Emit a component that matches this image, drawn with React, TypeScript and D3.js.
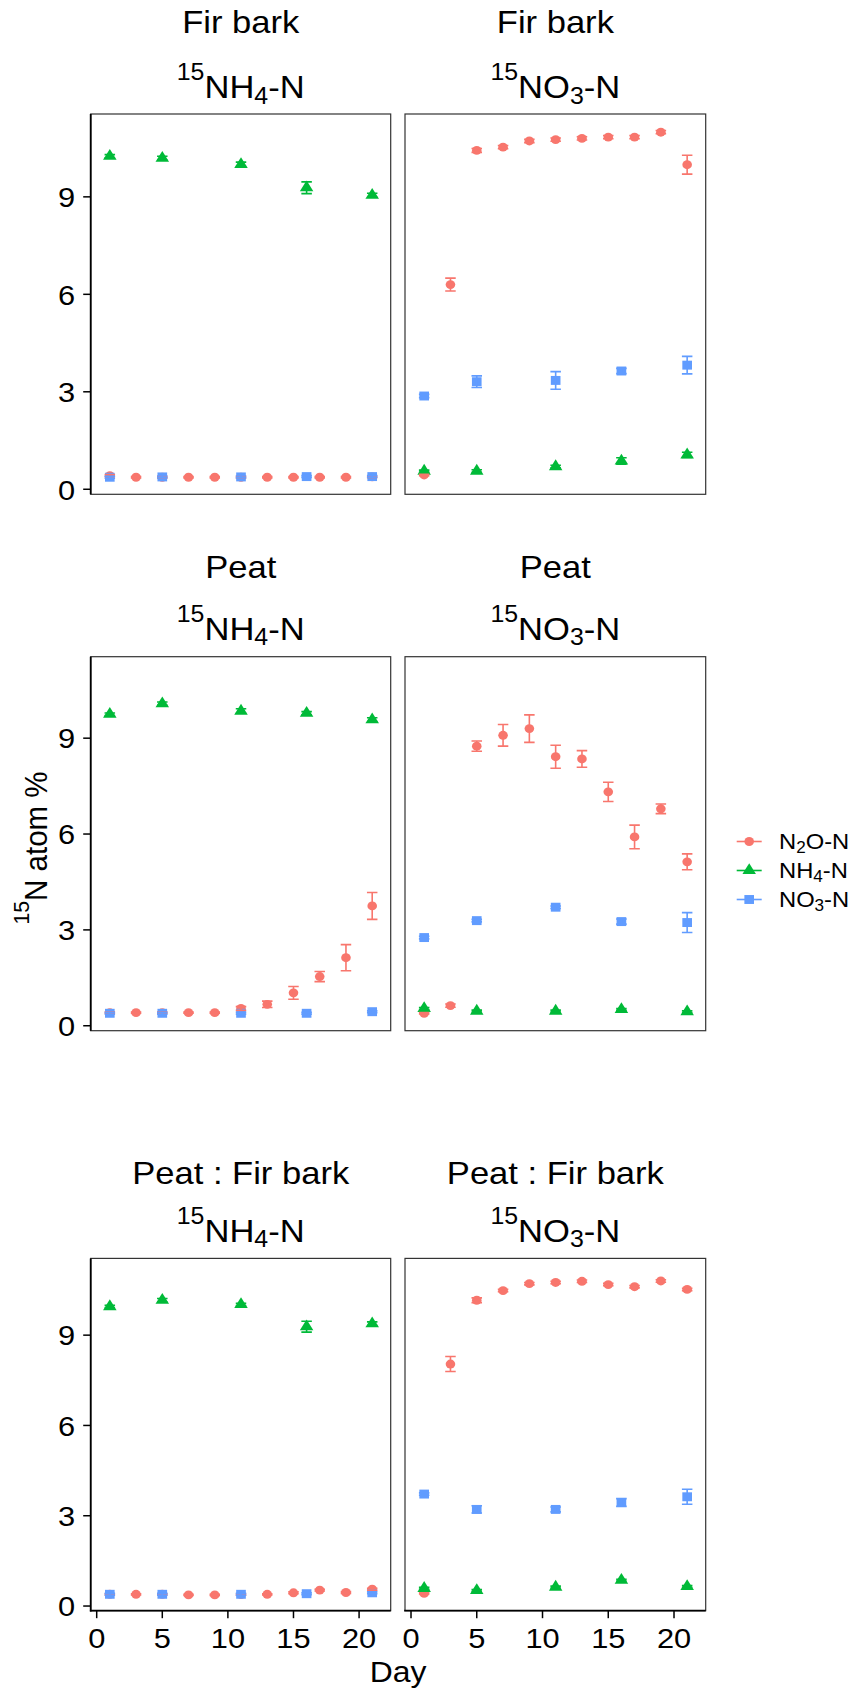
import React from 'react';
import * as d3 from 'd3';

// Sampling days
const n2oDays = [1, 3, 5, 7, 9, 11, 13, 15, 17, 19, 21];
const poolDays = [1, 5, 11, 16, 21];

// Fir bark, 15NH4-N labelled
const firNH4_N2O = [0.42, 0.37, 0.37, 0.37, 0.37, 0.37, 0.37, 0.37, 0.37, 0.37, 0.38];
const firNH4_N2O_se = [0.03, 0.02, 0.02, 0.02, 0.02, 0.02, 0.02, 0.02, 0.02, 0.02, 0.02];
const firNH4_NH4 = [10.25, 10.19, 10.0, 9.28, 9.05];
const firNH4_NH4_se = [0.05, 0.06, 0.07, 0.18, 0.06];
const firNH4_NO3 = [0.37, 0.38, 0.38, 0.39, 0.39];
const firNH4_NO3_se = [0.03, 0.03, 0.03, 0.03, 0.03];

// Fir bark, 15NO3-N labelled
const firNO3_N2O = [0.44, 6.3, 10.43, 10.53, 10.72, 10.76, 10.8, 10.84, 10.84, 10.99, 9.99];
const firNO3_N2O_se = [0.02, 0.2, 0.06, 0.05, 0.05, 0.05, 0.05, 0.05, 0.05, 0.05, 0.29];
const firNO3_NH4 = [0.56, 0.56, 0.7, 0.87, 1.06];
const firNO3_NH4_se = [0.03, 0.04, 0.04, 0.1, 0.08];
const firNO3_NO3 = [2.87, 3.31, 3.35, 3.64, 3.82];
const firNO3_NO3_se = [0.05, 0.18, 0.27, 0.08, 0.27];

// Peat, 15NH4-N labelled
const peatNH4_N2O = [0.41, 0.41, 0.41, 0.41, 0.41, 0.54, 0.67, 1.03, 1.54, 2.13, 3.75];
const peatNH4_N2O_se = [0.02, 0.02, 0.02, 0.02, 0.02, 0.06, 0.1, 0.2, 0.16, 0.41, 0.42];
const peatNH4_NH4 = [9.75, 10.08, 9.85, 9.78, 9.58];
const peatNH4_NH4_se = [0.04, 0.05, 0.07, 0.05, 0.06];
const peatNH4_NO3 = [0.39, 0.39, 0.39, 0.39, 0.44];
const peatNH4_NO3_se = [0.03, 0.03, 0.03, 0.03, 0.03];

// Peat, 15NO3-N labelled
const peatNO3_N2O = [0.39, 0.63, 8.75, 9.09, 9.3, 8.42, 8.35, 7.32, 5.91, 6.79, 5.13];
const peatNO3_N2O_se = [0.02, 0.05, 0.16, 0.34, 0.43, 0.36, 0.26, 0.3, 0.37, 0.15, 0.25];
const peatNO3_NH4 = [0.54, 0.46, 0.46, 0.51, 0.44];
const peatNO3_NH4_se = [0.03, 0.03, 0.03, 0.03, 0.03];
const peatNO3_NO3 = [2.76, 3.29, 3.71, 3.26, 3.23];
const peatNO3_NO3_se = [0.04, 0.04, 0.04, 0.08, 0.31];

// Peat : Fir bark, 15NH4-N labelled
const mixNH4_N2O = [0.39, 0.39, 0.39, 0.37, 0.37, 0.38, 0.39, 0.44, 0.53, 0.45, 0.56];
const mixNH4_N2O_se = [0.02, 0.02, 0.02, 0.02, 0.02, 0.02, 0.02, 0.03, 0.03, 0.03, 0.03];
const mixNH4_NH4 = [9.95, 10.16, 10.02, 9.28, 9.38];
const mixNH4_NH4_se = [0.04, 0.06, 0.04, 0.18, 0.06];
const mixNH4_NO3 = [0.39, 0.39, 0.39, 0.41, 0.44];
const mixNH4_NO3_se = [0.03, 0.03, 0.03, 0.03, 0.03];

// Peat : Fir bark, 15NO3-N labelled
const mixNO3_N2O = [0.42, 8.04, 10.16, 10.48, 10.71, 10.75, 10.79, 10.68, 10.61, 10.8, 10.52];
const mixNO3_N2O_se = [0.02, 0.25, 0.08, 0.04, 0.04, 0.04, 0.04, 0.04, 0.04, 0.04, 0.04];
const mixNO3_NH4 = [0.59, 0.52, 0.63, 0.86, 0.65];
const mixNO3_NH4_se = [0.03, 0.03, 0.03, 0.03, 0.03];
const mixNO3_NO3 = [3.72, 3.21, 3.21, 3.44, 3.63];
const mixNO3_NO3_se = [0.04, 0.12, 0.08, 0.13, 0.25];

const materials = ['Fir bark', 'Peat', 'Peat : Fir bark'];
const tracers = ['4', '3'];
const tracerIons = ['NH', 'NO'];
const seriesColors = ['#F8766D', '#00BA38', '#619CFF'];
const yTicks = [0, 3, 6, 9];
const xTicks = [0, 5, 10, 15, 20];

type Series = { days: number[]; mean: number[]; se: number[] };
type PanelData = { row: number; col: number; series: Series[] };

const mk = (days: number[], mean: number[], se: number[]): Series => ({ days, mean, se });

const panels: PanelData[] = [
  { row: 0, col: 0, series: [mk(n2oDays, firNH4_N2O, firNH4_N2O_se), mk(poolDays, firNH4_NH4, firNH4_NH4_se), mk(poolDays, firNH4_NO3, firNH4_NO3_se)] },
  { row: 0, col: 1, series: [mk(n2oDays, firNO3_N2O, firNO3_N2O_se), mk(poolDays, firNO3_NH4, firNO3_NH4_se), mk(poolDays, firNO3_NO3, firNO3_NO3_se)] },
  { row: 1, col: 0, series: [mk(n2oDays, peatNH4_N2O, peatNH4_N2O_se), mk(poolDays, peatNH4_NH4, peatNH4_NH4_se), mk(poolDays, peatNH4_NO3, peatNH4_NO3_se)] },
  { row: 1, col: 1, series: [mk(n2oDays, peatNO3_N2O, peatNO3_N2O_se), mk(poolDays, peatNO3_NH4, peatNO3_NH4_se), mk(poolDays, peatNO3_NO3, peatNO3_NO3_se)] },
  { row: 2, col: 0, series: [mk(n2oDays, mixNH4_N2O, mixNH4_N2O_se), mk(poolDays, mixNH4_NH4, mixNH4_NH4_se), mk(poolDays, mixNH4_NO3, mixNH4_NO3_se)] },
  { row: 2, col: 1, series: [mk(n2oDays, mixNO3_N2O, mixNO3_N2O_se), mk(poolDays, mixNO3_NH4, mixNO3_NH4_se), mk(poolDays, mixNO3_NO3, mixNO3_NO3_se)] },
];

// Layout
const W = 853;
const H = 1694;
const SX = 1.08; // horizontal glyph stretch
const FONT = '"Liberation Sans", Arial, Helvetica, sans-serif';
const TICK_SIZE = 28.5;
const rowLayout = [
  { top: 114, bottom: 494.3, title1: 33.3, title2: 98.3 },
  { top: 656.7, bottom: 1030.7, title1: 578.3, title2: 640 },
  { top: 1258.4, bottom: 1610.7, title1: 1184, title2: 1242 },
];
const colLayout = [
  { left: 90.7, right: 390.7 },
  { left: 405, right: 705.7 },
];
const xDomain: [number, number] = [-0.457, 22.41];
const yDomain: [number, number] = [-0.155, 11.55];
const capHalf = 0.4;

const symbolPaths = [
  d3.symbol(d3.symbolCircle, 62)()!,
  d3.symbol(d3.symbolTriangle, 68)()!,
  d3.symbol(d3.symbolSquare, 80)()!,
];

type Part = { t: string; v?: 'sup' | 'sub' };

function RichText({ parts, size, x, y, anchor = 'middle', rotate = false }: {
  parts: Part[]; size: number; x: number; y: number; anchor?: string; rotate?: boolean;
}) {
  let cur = 0;
  const spans = parts.map((p, i) => {
    const target = p.v === 'sup' ? -0.56 * size : p.v === 'sub' ? 0.17 * size : 0;
    const dy = target - cur;
    cur = target;
    return (
      <tspan key={i} dy={dy} fontSize={p.v ? size * 0.72 : size}>
        {p.t}
      </tspan>
    );
  });
  const tf = rotate
    ? `translate(${x},${y}) rotate(-90) scale(1,${SX})`
    : `translate(${x},${y}) scale(${SX},1)`;
  return (
    <text transform={tf} textAnchor={anchor as any} fontSize={size} fontFamily={FONT} fill="#000">
      {spans}
    </text>
  );
}

function Panel({ p }: { p: PanelData }) {
  const rl = rowLayout[p.row];
  const cl = colLayout[p.col];
  const x = d3.scaleLinear().domain(xDomain).range([cl.left, cl.right]);
  const y = d3.scaleLinear().domain(yDomain).range([rl.bottom, rl.top]);
  const cx = (cl.left + cl.right) / 2;
  const isLeft = p.col === 0;
  const isBottom = p.row === 2;

  return (
    <g>
      {/* facet titles */}
      <RichText parts={[{ t: materials[p.row] }]} size={32} x={cx} y={rl.title1} />
      <RichText
        parts={[{ t: '15', v: 'sup' }, { t: tracerIons[p.col] }, { t: tracers[p.col], v: 'sub' }, { t: '-N' }]}
        size={32}
        x={cx}
        y={rl.title2}
      />
      {/* panel border */}
      <rect x={cl.left} y={rl.top} width={cl.right - cl.left} height={rl.bottom - rl.top}
        fill="none" stroke="#333" strokeWidth={1.2} />
      {isLeft && (
        <line x1={cl.left} x2={cl.left} y1={rl.top} y2={isBottom ? rl.bottom + 0.8 : rl.bottom} stroke="#000" strokeWidth={1.8} />
      )}
      {isBottom && (
        <line x1={cl.left - 0.8} x2={cl.right} y1={rl.bottom} y2={rl.bottom} stroke="#000" strokeWidth={1.8} />
      )}
      {/* y axis */}
      {isLeft && yTicks.map((t) => (
        <g key={t}>
          <line x1={cl.left - 7.5} x2={cl.left} y1={y(t)} y2={y(t)} stroke="#000" strokeWidth={1.5} />
          <RichText parts={[{ t: String(t) }]} size={TICK_SIZE} x={75} y={y(t) + 0.36 * TICK_SIZE} anchor="end" />
        </g>
      ))}
      {/* x axis */}
      {isBottom && xTicks.map((t) => (
        <g key={t}>
          <line x1={x(t)} x2={x(t)} y1={rl.bottom} y2={rl.bottom + 7.5} stroke="#000" strokeWidth={1.5} />
          <RichText parts={[{ t: String(t) }]} size={TICK_SIZE} x={x(t)} y={1648} anchor="middle" />
        </g>
      ))}
      {/* points */}
      {p.series.map((s, si) =>
        s.days.map((d, i) => (
          <path key={`p${si}-${i}`} d={symbolPaths[si]}
            transform={`translate(${x(d)},${y(s.mean[i])}) scale(${SX},1)`}
            fill={seriesColors[si]} />
        ))
      )}
      {/* error bars */}
      {p.series.map((s, si) =>
        s.days.map((d, i) => {
          const lo = y(s.mean[i] - s.se[i]);
          const hi = y(s.mean[i] + s.se[i]);
          const xl = x(d - capHalf);
          const xr = x(d + capHalf);
          const xm = x(d);
          return (
            <path key={`e${si}-${i}`}
              d={`M${xl},${hi}H${xr}M${xm},${hi}V${lo}M${xl},${lo}H${xr}`}
              stroke={seriesColors[si]} strokeWidth={1.6} fill="none" />
          );
        })
      )}
    </g>
  );
}

const legendLabels: Part[][] = [
  [{ t: 'N' }, { t: '2', v: 'sub' }, { t: 'O-N' }],
  [{ t: 'NH' }, { t: '4', v: 'sub' }, { t: '-N' }],
  [{ t: 'NO' }, { t: '3', v: 'sub' }, { t: '-N' }],
];
const legendY = [841.5, 870.5, 899.5];

export default function App() {
  return (
    <svg width={W} height={H} viewBox={`0 0 ${W} ${H}`}
      style={{ position: 'absolute', left: 0, top: 0, background: '#fff' }}>
      <rect width={W} height={H} fill="#fff" />
      {panels.map((p) => (
        <Panel key={`${p.row}-${p.col}`} p={p} />
      ))}
      {/* axis titles */}
      <RichText parts={[{ t: 'Day' }]} size={29.5} x={398} y={1681.5} />
      <RichText parts={[{ t: '15', v: 'sup' }, { t: 'N atom %' }]} size={29.5} x={46.5} y={848} rotate />
      {/* legend */}
      {legendLabels.map((parts, i) => (
        <g key={i}>
          <line x1={736.7} x2={761.7} y1={legendY[i]} y2={legendY[i]} stroke={seriesColors[i]} strokeWidth={1.6} />
          <path d={symbolPaths[i]} transform={`translate(749.2,${legendY[i]}) scale(${SX},1)`} fill={seriesColors[i]} />
          <RichText parts={parts} size={22} x={779} y={legendY[i] + 0.36 * 22} anchor="start" />
        </g>
      ))}
    </svg>
  );
}
